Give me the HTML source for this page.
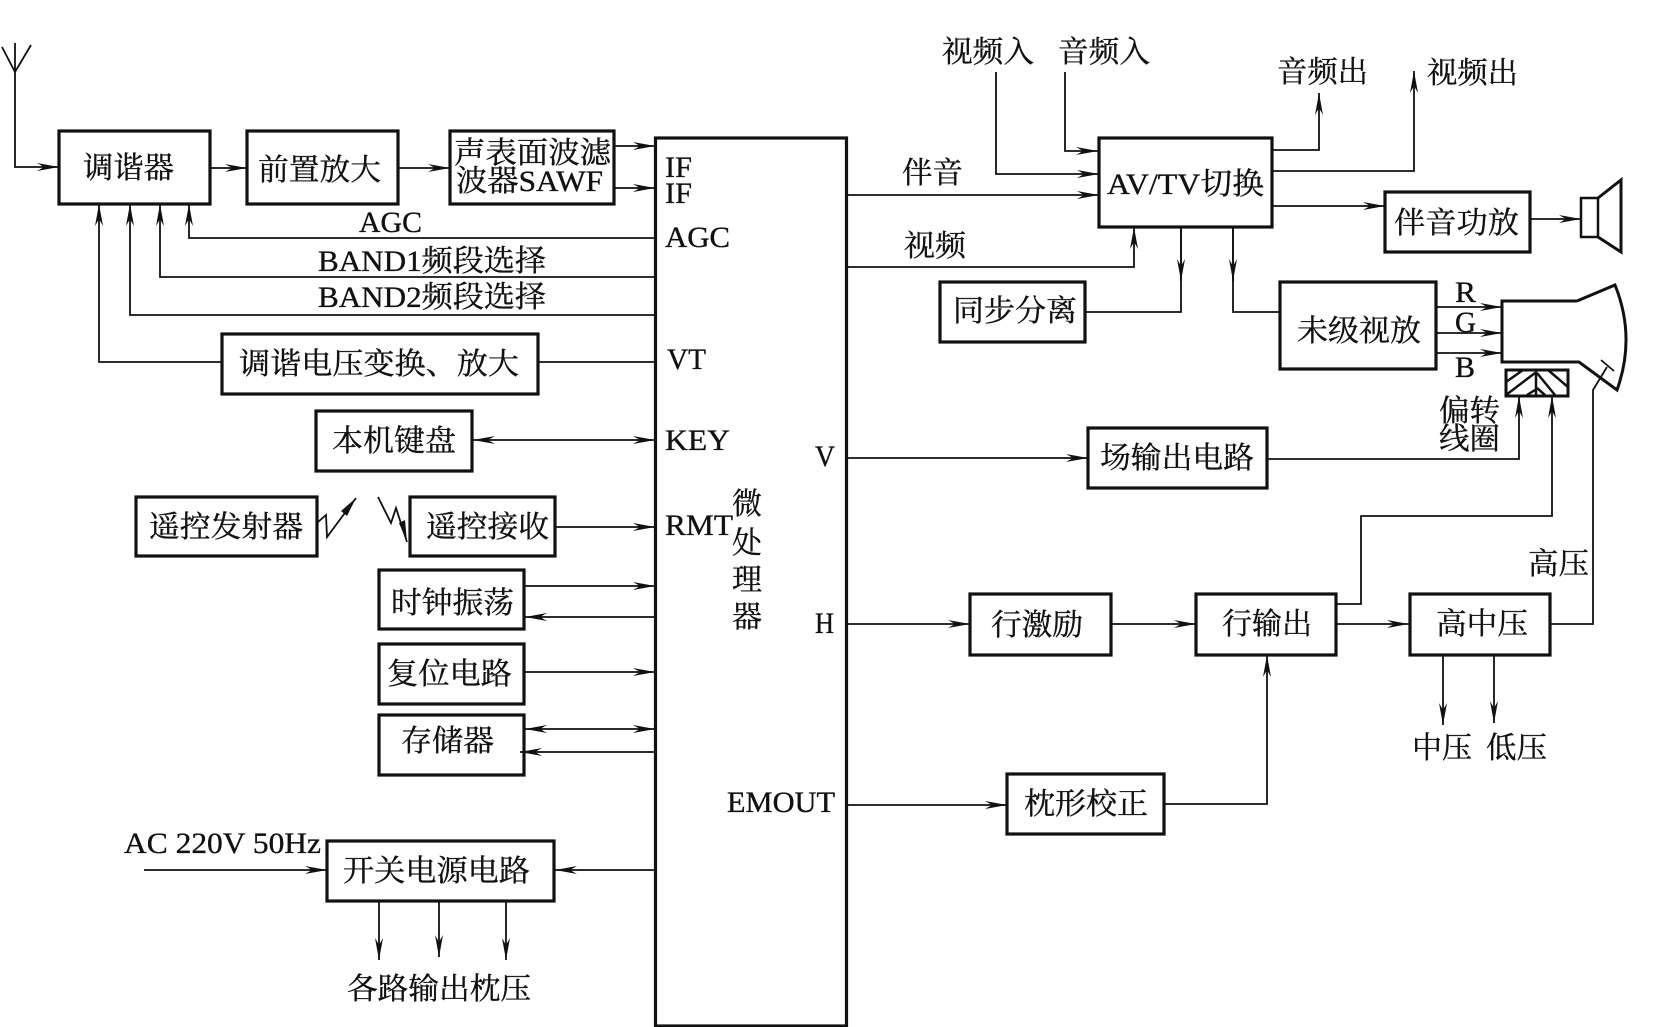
<!DOCTYPE html>
<html><head><meta charset="utf-8"><style>
html,body{margin:0;padding:0;background:#fff}
svg{display:block}
text{font-family:"Liberation Serif","Noto Serif CJK SC",serif;font-size:30px;fill:#111;stroke:#111;stroke-width:.35}
.b{fill:#fff;stroke:#111;stroke-width:3.2}
.l{fill:none;stroke:#111;stroke-width:1.8}
.n{fill:none;stroke:#111;stroke-width:1.8;marker-end:url(#a)}
.d{fill:none;stroke:#111;stroke-width:1.8;marker-end:url(#a);marker-start:url(#s)}
.t{fill:none;stroke:#111;stroke-width:3}
</style></head><body>
<svg width="1654" height="1027" viewBox="0 0 1654 1027" xmlns="http://www.w3.org/2000/svg">
<defs>
<marker id="a" markerUnits="userSpaceOnUse" markerWidth="24" markerHeight="10" refX="22" refY="4" orient="auto"><path d="M0 0L22 4L0 8L7 4Z" fill="#111"/></marker>
<marker id="s" markerUnits="userSpaceOnUse" markerWidth="24" markerHeight="10" refX="0" refY="4" orient="auto"><path d="M22 0L0 4L22 8L15 4Z" fill="#111"/></marker>
</defs>

<!-- antenna -->
<path class="l" d="M2 47L15 72L31 45M15 43V72"/>
<path class="n" d="M15 72V167H59"/>

<!-- left boxes -->
<rect class="b" x="59" y="131" width="151" height="73"/>
<rect class="b" x="247" y="131" width="151" height="73"/>
<rect class="b" x="450" y="131" width="164" height="73"/>
<rect class="b" x="222" y="334" width="316" height="60"/>
<rect class="b" x="316" y="411" width="156" height="60"/>
<rect class="b" x="136" y="497" width="181" height="59"/>
<rect class="b" x="410" y="497" width="145" height="59"/>
<rect class="b" x="379" y="570" width="145" height="59"/>
<rect class="b" x="379" y="644" width="145" height="60"/>
<rect class="b" x="379" y="715" width="145" height="60"/>
<rect class="b" x="327" y="841" width="227" height="60"/>
<rect class="b" x="655.5" y="138" width="191" height="888"/>

<!-- left connectors -->
<path class="n" d="M210 168H247"/>
<path class="n" d="M398 168H450"/>
<path class="n" d="M614 146H655"/>
<path class="n" d="M614 188H655"/>
<path class="n" d="M655 238H189V204"/>
<path class="n" d="M655 277H160V204"/>
<path class="n" d="M655 315H130V204"/>
<path class="n" d="M222 362H99V204"/>
<path class="l" d="M538 362H655"/>
<path class="d" d="M473 440H655"/>
<path class="n" d="M555 527H655"/>
<path class="n" d="M524 586H655"/>
<path class="n" d="M655 617H525"/>
<path class="n" d="M524 672H655"/>
<path class="d" d="M525 729H655"/>
<path class="n" d="M655 752H520"/>
<path class="n" d="M655 870H555"/>
<path class="n" d="M144 870H327"/>
<path class="n" d="M379 901V960"/>
<path class="n" d="M439 901V957"/>
<path class="n" d="M506 901V960"/>

<!-- lightning -->
<path class="l" d="M318 522L326 515L327 537L356 498"/>
<path d="M356 498L347 516L341 511Z" fill="#111"/>
<path class="l" d="M378 497L391 523L396 508L407 542"/>
<path d="M407 542L399 523L405 520Z" fill="#111"/>

<!-- right boxes -->
<rect class="b" x="1099" y="138" width="173" height="89"/>
<rect class="b" x="1385" y="192" width="145" height="60"/>
<rect class="b" x="940" y="282" width="145" height="60"/>
<rect class="b" x="1280" y="282" width="156" height="87"/>
<rect class="b" x="1088" y="428" width="179" height="60"/>
<rect class="b" x="970" y="594" width="141" height="61"/>
<rect class="b" x="1196" y="594" width="140" height="61"/>
<rect class="b" x="1410" y="594" width="140" height="61"/>
<rect class="b" x="1007" y="774" width="157" height="60"/>

<!-- right connectors -->
<path class="n" d="M996 72V174H1099"/>
<path class="n" d="M1065 72V151H1098"/>
<path class="n" d="M847 195H1099"/>
<path class="n" d="M847 267H1134V227"/>
<path class="n" d="M1272 150H1319V93"/>
<path class="n" d="M1272 171H1414V71"/>
<path class="n" d="M1272 206H1385"/>
<path class="n" d="M1530 219H1581"/>
<path class="l" d="M1085 312H1181V227"/>
<path class="n" d="M1181 227V281"/>
<path class="l" d="M1280 312H1233V227"/>
<path class="n" d="M1233 227V281"/>
<path class="n" d="M1436 307H1502"/>
<path class="n" d="M1436 333H1502"/>
<path class="n" d="M1436 353H1502"/>
<path class="n" d="M847 458H1088"/>
<path class="n" d="M1267 459H1519V396"/>
<path class="n" d="M1336 604H1361V516H1552V396"/>
<path class="n" d="M847 624H970"/>
<path class="n" d="M1111 624H1196"/>
<path class="n" d="M1336 624H1409"/>
<path class="l" d="M1550 624H1593V390L1607 367"/>
<path class="n" d="M1443 655V725"/>
<path class="n" d="M1494 655V723"/>
<path class="n" d="M847 805H1007"/>
<path class="n" d="M1164 804H1267V655"/>

<!-- speaker -->
<rect x="1581" y="198" width="17" height="39" fill="#fff" stroke="#111" stroke-width="2.5"/>
<path class="t" d="M1598 198L1621 180V252L1598 237"/>

<!-- CRT -->
<path class="t" d="M1577 301H1502V362H1579L1617 390Q1636 337 1615 285L1577 301"/>
<path class="l" d="M1601 360L1614 371"/>

<!-- yoke -->
<rect x="1506" y="370" width="62" height="26" fill="#fff" stroke="#111" stroke-width="3"/>
<path class="l" style="stroke-width:2.5" d="M1536 370V396M1506 382L1523 370M1506 395L1535 373M1527 395L1535 390M1537 373L1555 395M1537 388L1545 395M1548 370L1568 387"/>

<!-- labels left -->
<text x="83" y="178" textLength="91" lengthAdjust="spacingAndGlyphs">调谐器</text>
<text x="258" y="180" textLength="123" lengthAdjust="spacingAndGlyphs">前置放大</text>
<text x="454" y="163" textLength="157" lengthAdjust="spacingAndGlyphs">声表面波滤</text>
<text x="456" y="191" textLength="147" lengthAdjust="spacingAndGlyphs">波器SAWF</text>
<text x="359" y="232" textLength="63" lengthAdjust="spacingAndGlyphs">AGC</text>
<text x="318" y="271" textLength="228" lengthAdjust="spacingAndGlyphs">BAND1频段选择</text>
<text x="318" y="307" textLength="228" lengthAdjust="spacingAndGlyphs">BAND2频段选择</text>
<text x="665" y="177" textLength="27" lengthAdjust="spacingAndGlyphs">IF</text>
<text x="665" y="203" textLength="27" lengthAdjust="spacingAndGlyphs">IF</text>
<text x="665" y="247" textLength="65" lengthAdjust="spacingAndGlyphs">AGC</text>
<text x="667" y="369" textLength="39" lengthAdjust="spacingAndGlyphs">VT</text>
<text x="665" y="450" textLength="65" lengthAdjust="spacingAndGlyphs">KEY</text>
<text x="665" y="535" textLength="68" lengthAdjust="spacingAndGlyphs">RMT</text>
<text x="815" y="466" textLength="20" lengthAdjust="spacingAndGlyphs">V</text>
<text x="815" y="633" textLength="19" lengthAdjust="spacingAndGlyphs">H</text>
<text x="727" y="812" textLength="108" lengthAdjust="spacingAndGlyphs">EMOUT</text>
<text x="732" y="514">微</text>
<text x="732" y="553">处</text>
<text x="732" y="590">理</text>
<text x="732" y="627">器</text>
<text x="239" y="374" textLength="280" lengthAdjust="spacingAndGlyphs">调谐电压变换、放大</text>
<text x="332" y="451" textLength="124" lengthAdjust="spacingAndGlyphs">本机键盘</text>
<text x="149" y="537" textLength="154" lengthAdjust="spacingAndGlyphs">遥控发射器</text>
<text x="426" y="537" textLength="123" lengthAdjust="spacingAndGlyphs">遥控接收</text>
<text x="391" y="613" textLength="123" lengthAdjust="spacingAndGlyphs">时钟振荡</text>
<text x="387" y="684" textLength="125" lengthAdjust="spacingAndGlyphs">复位电路</text>
<text x="401" y="751" textLength="93" lengthAdjust="spacingAndGlyphs">存储器</text>
<text x="124" y="853" textLength="197" lengthAdjust="spacingAndGlyphs">AC 220V 50Hz</text>
<text x="343" y="881" textLength="187" lengthAdjust="spacingAndGlyphs">开关电源电路</text>
<text x="347" y="999" textLength="184" lengthAdjust="spacingAndGlyphs">各路输出枕压</text>

<!-- labels right -->
<text x="942" y="62" textLength="92" lengthAdjust="spacingAndGlyphs">视频入</text>
<text x="1058" y="62" textLength="92" lengthAdjust="spacingAndGlyphs">音频入</text>
<text x="1277" y="82" textLength="91" lengthAdjust="spacingAndGlyphs">音频出</text>
<text x="1427" y="83" textLength="91" lengthAdjust="spacingAndGlyphs">视频出</text>
<text x="902" y="183" textLength="61" lengthAdjust="spacingAndGlyphs">伴音</text>
<text x="904" y="256" textLength="62" lengthAdjust="spacingAndGlyphs">视频</text>
<text x="1107" y="194" textLength="157" lengthAdjust="spacingAndGlyphs">AV/TV切换</text>
<text x="1394" y="233" textLength="125" lengthAdjust="spacingAndGlyphs">伴音功放</text>
<text x="953" y="321" textLength="124" lengthAdjust="spacingAndGlyphs">同步分离</text>
<text x="1297" y="341" textLength="124" lengthAdjust="spacingAndGlyphs">未级视放</text>
<text x="1455" y="302" textLength="21" lengthAdjust="spacingAndGlyphs">R</text>
<text x="1455" y="332" textLength="21" lengthAdjust="spacingAndGlyphs">G</text>
<text x="1455" y="377" textLength="20" lengthAdjust="spacingAndGlyphs">B</text>
<text x="1439" y="421" textLength="61" lengthAdjust="spacingAndGlyphs">偏转</text>
<text x="1439" y="449" textLength="61" lengthAdjust="spacingAndGlyphs">线圈</text>
<text x="1100" y="468" textLength="154" lengthAdjust="spacingAndGlyphs">场输出电路</text>
<text x="1528" y="574" textLength="61" lengthAdjust="spacingAndGlyphs">高压</text>
<text x="991" y="635" textLength="92" lengthAdjust="spacingAndGlyphs">行激励</text>
<text x="1222" y="634" textLength="90" lengthAdjust="spacingAndGlyphs">行输出</text>
<text x="1436" y="634" textLength="92" lengthAdjust="spacingAndGlyphs">高中压</text>
<text x="1412" y="758" textLength="60" lengthAdjust="spacingAndGlyphs">中压</text>
<text x="1486" y="758" textLength="61" lengthAdjust="spacingAndGlyphs">低压</text>
<text x="1024" y="814" textLength="124" lengthAdjust="spacingAndGlyphs">枕形校正</text>
</svg>
</body></html>
